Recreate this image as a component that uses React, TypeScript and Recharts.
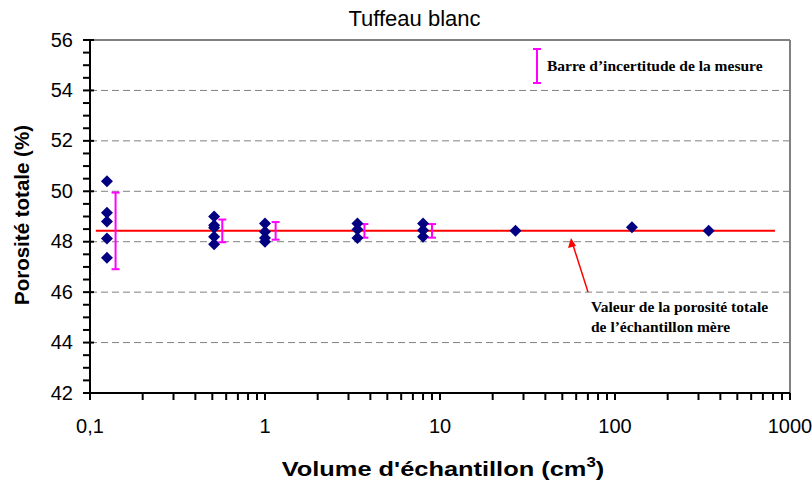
import React from 'react';
import {
  ScatterChart,
  Scatter,
  XAxis,
  YAxis,
  CartesianGrid,
  ReferenceLine,
  ErrorBar,
  Label
} from 'recharts';

// sample volumes (cm3) and measured total porosity (%)
const sampleVolumes = [
  0.125, 0.125, 0.125, 0.125, 0.125,
  0.512, 0.512, 0.512, 0.512, 0.512,
  1, 1, 1, 1,
  3.375, 3.375, 3.375,
  8, 8, 8,
  27, 125, 343
];
const samplePorosities = [
  50.4, 49.15, 48.8, 48.13, 47.36,
  49.0, 48.65, 48.55, 48.2, 47.9,
  48.72, 48.4, 48.15, 48.0,
  48.72, 48.48, 48.15,
  48.72, 48.45, 48.2,
  48.43, 48.57, 48.43
];

// uncertainty bars, drawn next to each sample group
const errorVolumes = [0.14, 0.57, 1.15, 3.7, 9];
const errorAmplitudes = [1.52, 0.45, 0.35, 0.27, 0.27];

// porosity of the parent sample
const refPorosity = 48.43;
const refStart = 0.108;
const refEnd = 820;

const decades = [0.1, 1, 10, 100, 1000];
const yMajorTicks = [42, 44, 46, 48, 50, 52, 54, 56];

const xTicks = decades.flatMap((d, i) =>
  i === decades.length - 1 ? [d] : [1, 2, 3, 4, 5, 6, 7, 8, 9].map(m => +(d * m).toPrecision(3))
);
const yTicks: number[] = [];
for (let v = 42; v <= 56; v += 0.5) yTicks.push(v);

const points = sampleVolumes.map((v, i) => ({ x: v, y: samplePorosities[i] }));
const errPoints = errorVolumes.map((v, i) => ({ x: v, y: refPorosity, err: errorAmplitudes[i] }));

const MAGENTA = '#FF00FF';
const NAVY = '#000080';
const GRID = '#808080';
const SANS = '"Liberation Sans", Arial, sans-serif';
const SERIF = '"Liberation Serif", "Times New Roman", serif';

const Diamond = (props: any) => {
  const { cx, cy } = props;
  const r = 6;
  return (
    <polygon
      points={`${cx},${cy - r} ${cx + r},${cy} ${cx},${cy + r} ${cx - r},${cy}`}
      fill={NAVY}
    />
  );
};

// x ticks: draw the tick mark ourselves, label only on decades
const XTick = (props: any) => {
  const { x, y, payload } = props;
  const major = decades.includes(payload.value);
  return (
    <g>
      <line x1={x} y1={y} x2={x} y2={y + 7} stroke="#000" strokeWidth={2} />
      {major && (
        <text x={x} y={y + 40} textAnchor="middle" fontSize={20} fontFamily={SANS} fill="#000">
          {String(payload.value).replace('.', ',')}
        </text>
      )}
    </g>
  );
};

// y ticks: major ticks cross the axis, minor ones stay outside
const YTick = (props: any) => {
  const { x, y, payload } = props;
  const major = yMajorTicks.includes(payload.value);
  return (
    <g>
      <line x1={x - 7} y1={y} x2={major ? x + 4 : x} y2={y} stroke="#000" strokeWidth={2} />
      {major && (
        <text x={x - 17} y={y + 6.5} textAnchor="end" fontSize={20} fontFamily={SANS} fill="#000">
          {payload.value}
        </text>
      )}
    </g>
  );
};

const App = () => {
  return (
    <div style={{ position: 'absolute', left: 0, top: 0, width: 812, height: 485, background: '#fff' }}>
      <ScatterChart width={812} height={485} margin={{ top: 40, right: 22, bottom: 0, left: 30 }}>
        <CartesianGrid
          horizontal
          vertical={false}
          horizontalValues={[44, 46, 48, 50, 52, 54]}
          stroke={GRID}
          strokeDasharray="7 4"
        />
        <ReferenceLine y={56} stroke={GRID} strokeWidth={2} />
        <ReferenceLine x={1000} stroke={GRID} strokeWidth={2} />
        <XAxis
          type="number"
          dataKey="x"
          scale="log"
          domain={[0.1, 1000]}
          allowDataOverflow
          ticks={xTicks}
          interval={0}
          tick={<XTick />}
          tickLine={false}
          tickSize={0}
          tickMargin={0}
          height={92}
          stroke="#000"
          axisLine={{ stroke: '#000', strokeWidth: 2 }}
        >
          <Label
            content={({ viewBox }: any) => {
              const cx = 443;
              const by = viewBox.y + 83;
              return (
                <text
                  transform={`translate(${cx} ${by}) scale(1.21 1)`}
                  x={0}
                  y={0}
                  textAnchor="middle"
                  fontSize={21}
                  fontWeight="bold"
                  fontFamily={SANS}
                  fill="#000"
                >
                  Volume d'échantillon (cm
                  <tspan fontSize={14} dy={-9}>3</tspan>
                  <tspan dy={9}>)</tspan>
                </text>
              );
            }}
          />
        </XAxis>
        <YAxis
          type="number"
          dataKey="y"
          domain={[42, 56]}
          allowDataOverflow
          ticks={yTicks}
          interval={0}
          tick={<YTick />}
          tickLine={false}
          tickSize={0}
          tickMargin={0}
          width={60}
          stroke="#000"
          axisLine={{ stroke: '#000', strokeWidth: 2 }}
        >
          <Label
            content={() => {
              const cx = 29;
              const cy = 215;
              return (
                <text
                  x={cx}
                  y={cy}
                  transform={`rotate(-90 ${cx} ${cy})`}
                  textAnchor="middle"
                  fontSize={20.5}
                  fontWeight="bold"
                  fontFamily={SANS}
                  fill="#000"
                >
                  Porosité totale (%)
                </text>
              );
            }}
          />
        </YAxis>
        <ReferenceLine
          segment={[{ x: refStart, y: refPorosity }, { x: refEnd, y: refPorosity }]}
          stroke="#FF0000"
          strokeWidth={2}
        />
        <Scatter data={errPoints} shape={() => <g />} isAnimationActive={false}>
          <ErrorBar dataKey="err" direction="y" stroke={MAGENTA} strokeWidth={2} width={4} isAnimationActive={false} />
        </Scatter>
        <Scatter data={points} shape={<Diamond />} isAnimationActive={false} />
      </ScatterChart>

      <svg width={812} height={485} style={{ position: 'absolute', left: 0, top: 0, pointerEvents: 'none' }}>
        <text x={414.5} y={26} textAnchor="middle" fontSize={22} fontFamily={SANS} fill="#000">
          Tuffeau blanc
        </text>
        {/* legend: uncertainty bar */}
        <line x1={537} y1={49} x2={537} y2={83} stroke={MAGENTA} strokeWidth={2} />
        <line x1={533} y1={49} x2={541} y2={49} stroke={MAGENTA} strokeWidth={2} />
        <line x1={533} y1={83} x2={541} y2={83} stroke={MAGENTA} strokeWidth={2} />
        <text x={547} y={71} fontSize={15.5} fontWeight="bold" fontFamily={SERIF} fill="#000">
          Barre d’incertitude de la mesure
        </text>
        {/* annotation: parent sample value */}
        <line x1={588} y1={292} x2={573} y2={245} stroke="#FF0000" strokeWidth={1.5} />
        <polygon points="571,238 568,248 576,246" fill="#FF0000" />
        <text x={591} y={312} fontSize={15.5} fontWeight="bold" fontFamily={SERIF} fill="#000">
          Valeur de la porosité totale
        </text>
        <text x={591} y={332} fontSize={15.5} fontWeight="bold" fontFamily={SERIF} fill="#000">
          de l’échantillon mère
        </text>
      </svg>
    </div>
  );
};

export default App;
